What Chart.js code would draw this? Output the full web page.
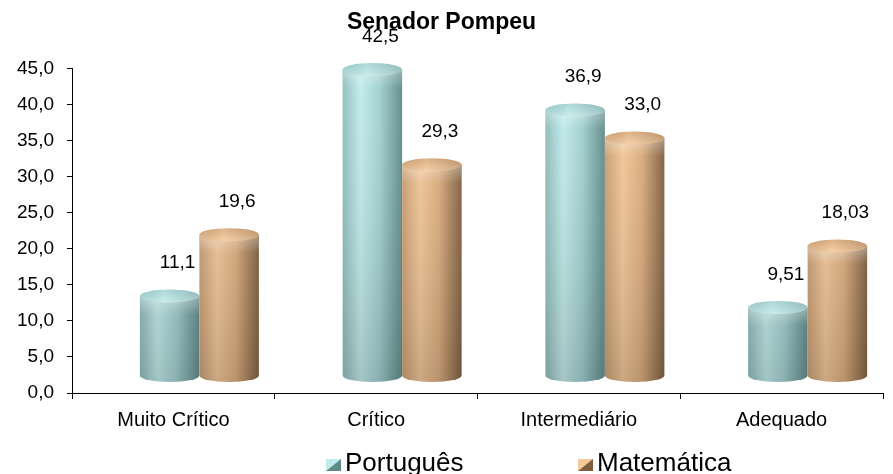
<!DOCTYPE html>
<html lang="pt">
<head>
<meta charset="utf-8">
<title>Senador Pompeu</title>
<script src="https://cdn.jsdelivr.net/npm/chart.js@4.4.1/dist/chart.umd.min.js"></script>
<style>
    html, body { margin: 0; padding: 0; background: #fff; }
    #grafico { display: block; }
</style>
</head>
<body>
<canvas id="grafico" width="893" height="474"></canvas>
<script>
// Níveis de proficiência e percentuais por disciplina
const niveis = ['Muito Crítico', 'Crítico', 'Intermediário', 'Adequado'];
const portugues = [11.1, 42.5, 36.9, 9.51];
const matematica = [19.6, 29.3, 33.0, 18.03];
const escalaY = { min: 0, max: 45, passo: 5 };

// Aparência dos cilindros (efeito 3D)
const DX = 26;      // deslocamento lateral da profundidade
const DY = -17;     // deslocamento vertical da profundidade
const RY = 6.5;     // meia altura das elipses
const ROTULO_DX = 8;
const ROTULO_DY = -50;

const cores = {
    portugues: { lado: '#8dbcbc', luz: '#c2ebeb', meio: '#a0d0d0', sombra: '#5f8a8a', tampa: '#a3d3d3', tampaLuz: '#c4ecec' },
    matematica: { lado: '#c99d70', luz: '#f4c898', meio: '#dcac7c', sombra: '#7f5e3e', tampa: '#d9a878', tampaLuz: '#f3cb9e' }
};

// Legenda desenhada à mão (ícones em pirâmide)
const LEGENDA_X = 326;
const LEGENDA_PASSO = 252;
const LEGENDA_Y = 471;

Chart.defaults.font.family = '"Liberation Sans", Arial, sans-serif';
Chart.defaults.color = '#000';

function fmt(n) {
    const s = Number.isInteger(n) ? n.toFixed(1) : String(n);
    return s.replace('.', ',');
}

function desenhaCilindro(ctx, area, cx, topo, fundo, w, cor) {
    const rx = w / 2;
    const x0 = cx - rx, x1 = cx + rx;

    ctx.save();
    ctx.beginPath();
    ctx.moveTo(x0, topo);
    ctx.lineTo(x0, fundo);
    ctx.ellipse(cx, fundo, rx, RY, 0, Math.PI, 0, true);
    ctx.lineTo(x1, topo);
    ctx.closePath();

    const g = ctx.createLinearGradient(x0, 0, x1, 0);
    g.addColorStop(0, cor.lado);
    g.addColorStop(0.3, cor.luz);
    g.addColorStop(0.62, cor.meio);
    g.addColorStop(1, cor.sombra);
    ctx.fillStyle = g;
    ctx.fill();
    ctx.clip();

    // escurece em direção ao chão
    const v = ctx.createLinearGradient(0, area.top, 0, area.bottom);
    v.addColorStop(0, 'rgba(255,255,255,0.04)');
    v.addColorStop(1, 'rgba(30,30,30,0.2)');
    ctx.fillStyle = v;
    ctx.fillRect(x0, topo - RY, w, fundo - topo + 2 * RY);

    // brilho do chanfro logo abaixo da tampa
    const b = ctx.createLinearGradient(0, topo + 2, 0, topo + RY + 12);
    b.addColorStop(0, 'rgba(255,255,255,0.3)');
    b.addColorStop(1, 'rgba(255,255,255,0)');
    ctx.fillStyle = b;
    ctx.fillRect(x0, topo, w, RY + 12);
    ctx.restore();

    // tampa: borda de trás um pouco mais escura
    ctx.save();
    ctx.beginPath();
    ctx.ellipse(cx, topo, rx, RY, 0, 0, Math.PI * 2);
    const t = ctx.createLinearGradient(0, topo - RY, 0, topo + RY);
    t.addColorStop(0, cor.tampa);
    t.addColorStop(1, cor.tampaLuz);
    ctx.fillStyle = t;
    ctx.fill();
    ctx.clip();
    const s = ctx.createLinearGradient(x0, 0, x1, 0);
    s.addColorStop(0, 'rgba(0,0,0,0.06)');
    s.addColorStop(0.4, 'rgba(255,255,255,0.12)');
    s.addColorStop(1, 'rgba(0,0,0,0.14)');
    ctx.fillStyle = s;
    ctx.fillRect(x0, topo - RY, w, 2 * RY);
    ctx.restore();
}

function desenhaIcone(ctx, x, y, w, h, cor) {
    ctx.save();
    ctx.beginPath();
    ctx.moveTo(x, y);
    ctx.lineTo(x + w, y);
    ctx.lineTo(x, y + h);
    ctx.closePath();
    ctx.fillStyle = cor.luz;
    ctx.fill();
    ctx.beginPath();
    ctx.moveTo(x + w, y);
    ctx.lineTo(x + w, y + h);
    ctx.lineTo(x, y + h);
    ctx.closePath();
    ctx.fillStyle = cor.sombra;
    ctx.fill();
    ctx.restore();
}

const cilindros = {
    id: 'cilindros',
    afterDatasetsDraw(chart) {
        const ctx = chart.ctx;
        chart.data.datasets.forEach((ds, i) => {
            const meta = chart.getDatasetMeta(i);
            meta.data.forEach(bar => {
                desenhaCilindro(ctx, chart.chartArea, bar.x + DX, bar.y + DY, bar.base + DY, bar.width, ds.cores);
            });
        });

        // valores acima de cada cilindro
        ctx.save();
        ctx.font = '19px "Liberation Sans", Arial, sans-serif';
        ctx.fillStyle = '#000';
        ctx.textAlign = 'center';
        ctx.textBaseline = 'middle';
        chart.data.datasets.forEach((ds, i) => {
            const meta = chart.getDatasetMeta(i);
            meta.data.forEach((bar, j) => {
                ctx.fillText(fmt(ds.data[j]), bar.x + DX + ROTULO_DX, bar.y + ROTULO_DY);
            });
        });
        ctx.restore();
    }
};

const legenda = {
    id: 'legenda',
    afterDraw(chart) {
        const ctx = chart.ctx;
        ctx.save();
        ctx.font = '26px "Liberation Sans", Arial, sans-serif';
        ctx.textBaseline = 'alphabetic';
        chart.data.datasets.forEach((ds, i) => {
            const x = LEGENDA_X + i * LEGENDA_PASSO;
            desenhaIcone(ctx, x, LEGENDA_Y - 12, 15, 12, ds.cores);
            ctx.fillStyle = '#000';
            ctx.fillText(ds.label, x + 19, LEGENDA_Y);
        });
        ctx.restore();
    }
};

new Chart(document.getElementById('grafico'), {
    type: 'bar',
    data: {
        labels: niveis,
        datasets: [
            { label: 'Português', data: portugues, cores: cores.portugues },
            { label: 'Matemática', data: matematica, cores: cores.matematica }
        ].map(ds => Object.assign(ds, {
            backgroundColor: 'rgba(0,0,0,0)',
            borderWidth: 0,
            categoryPercentage: 0.587,
            barPercentage: 1
        }))
    },
    options: {
        responsive: false,
        animation: false,
        devicePixelRatio: 1,
        layout: { padding: { left: 0, right: 10, top: 0, bottom: 41 } },
        plugins: {
            legend: { display: false },
            tooltip: { enabled: false },
            title: {
                display: true,
                text: 'Senador Pompeu',
                color: '#000',
                font: { size: 23, weight: 'bold' },
                padding: { top: 9, bottom: 32 }
            }
        },
        scales: {
            x: {
                ticks: { color: '#000', font: { size: 20 }, padding: 9, maxRotation: 0 },
                grid: { drawOnChartArea: false, tickLength: 6, color: '#000', offset: true },
                border: { display: true, color: '#000', width: 1 },
                afterFit: s => { s.height = 40; }
            },
            y: {
                min: escalaY.min,
                max: escalaY.max,
                ticks: {
                    stepSize: escalaY.passo,
                    color: '#000',
                    font: { size: 19 },
                    padding: 13,
                    callback: v => v.toFixed(1).replace('.', ',')
                },
                grid: { drawOnChartArea: false, tickLength: 5, color: '#000' },
                border: { display: true, color: '#000', width: 1 },
                afterFit: s => { s.width = 72; }
            }
        }
    },
    plugins: [cilindros, legenda]
});
</script>
</body>
</html>
